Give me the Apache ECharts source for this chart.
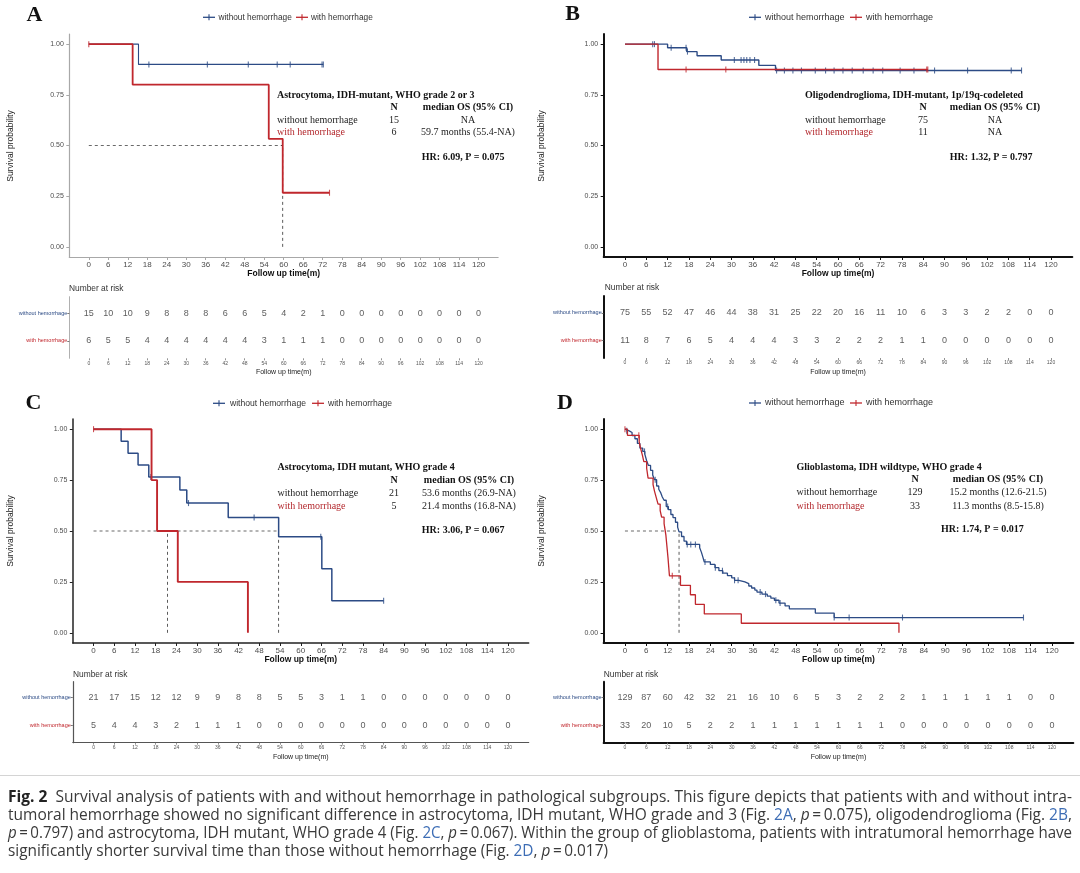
<!DOCTYPE html>
<html><head><meta charset="utf-8">
<script src="https://cdn.jsdelivr.net/npm/echarts@6/dist/echarts.min.js"></script>
<style>html,body{margin:0;padding:0;background:#fff}#c{width:1080px;height:873px}</style>
</head><body><div id="c"></div>
<script>
// ---------------- DATA ----------------
const timeTicks = [0,6,12,18,24,30,36,42,48,54,60,66,72,78,84,90,96,102,108,114,120];
const survTicks = [0,0.25,0.5,0.75,1];
const groupNames = ['without hemorrhage','with hemorrhage'];

// Panel A
const A_without_t = [0, 15.3, 72.2];
const A_without_s = [1, 0.9, 0.9];
const A_without_cens = [18.5, 36.5, 49.1, 58, 62, 71.8, 72.2];
const A_with_t = [0, 13.5, 55.4, 59.7, 74.1];
const A_with_s = [1, 0.8, 0.533, 0.267, 0.267];
const A_with_cens = [0, 74.1];
const A_medians = [59.7];
const A_risk_without = [15,10,10,9,8,8,8,6,6,5,4,2,1,0,0,0,0,0,0,0,0];
const A_risk_with = [6,5,5,4,4,4,4,4,4,3,1,1,1,0,0,0,0,0,0,0,0];
const A_title = 'Astrocytoma, IDH-mutant, WHO grade 2 or 3';
const A_N = ['15','6'];
const A_medianOS = ['NA','59.7 months (55.4-NA)'];
const A_hr = 'HR: 6.09, P = 0.075';

// Panel B
const B_without_t = [0, 12.0, 17.4, 20.3, 27.1, 37.7, 42.4, 111.7];
const B_without_s = [1, 0.982, 0.963, 0.943, 0.922, 0.895, 0.870, 0.870];
const B_without_cens = [7.8,8.3,13.0,17.2,17.6,30.8,32.7,33.5,34.3,35.2,36.5,42.7,44.9,47.3,49.7,53.6,56.5,58.9,61.4,64,67.1,69.9,72.6,77.5,81.4,87.2,96.5,108.8,111.7];
const B_with_t = [0, 9.3, 85.3];
const B_with_s = [1, 0.875, 0.875];
const B_with_cens = [17.2, 28.4, 85.0, 85.3];
const B_medians = [];
const B_risk_without = [75,55,52,47,46,44,38,31,25,22,20,16,11,10,6,3,3,2,2,0,0];
const B_risk_with = [11,8,7,6,5,4,4,4,3,3,2,2,2,1,1,0,0,0,0,0,0];
const B_title = 'Oligodendroglioma, IDH-mutant, 1p/19q-codeleted';
const B_N = ['75','11'];
const B_medianOS = ['NA','NA'];
const B_hr = 'HR: 1.32, P = 0.797';

// Panel C
const C_without_t = [0, 8.0, 10.0, 12.9, 16.0, 25.0, 27.0, 39.0, 53.6, 66.1, 69.0, 84.0];
const C_without_s = [1, 0.941, 0.882, 0.824, 0.765, 0.701, 0.637, 0.566, 0.472, 0.315, 0.157, 0.157];
const C_without_cens = [16.6, 27.5, 46.5, 65.8, 84.0];
const C_with_t = [0, 16.8, 18.4, 24.4, 44.7];
const C_with_s = [1, 0.75, 0.5, 0.25, 0];
const C_with_cens = [0];
const C_medians = [21.4, 53.6];
const C_risk_without = [21,17,15,12,12,9,9,8,8,5,5,3,1,1,0,0,0,0,0,0,0];
const C_risk_with = [5,4,4,3,2,1,1,1,0,0,0,0,0,0,0,0,0,0,0,0,0];
const C_title = 'Astrocytoma, IDH mutant, WHO grade 4';
const C_N = ['21','5'];
const C_medianOS = ['53.6 months (26.9-NA)','21.4 months (16.8-NA)'];
const C_hr = 'HR: 3.06, P = 0.067';

// Panel D
const D_without_t = [0,0.5,1.2,2.0,2.8,3.5,4.2,5.0,5.6,6.1,6.6,7.2,7.8,8.3,8.9,9.5,10.0,10.5,11.0,11.6,12.2,12.9,13.5,14.2,14.8,15.2,15.9,16.6,17.3,21.0,21.5,21.9,22.3,24.0,25.3,26.4,27.5,28.8,30.0,30.8,32.0,33.7,34.8,35.6,36.5,37.1,38.5,40.0,41.0,42.0,43.3,45.0,46.2,53.5,58.8,112.0];
const D_without_s = [1,0.992,0.984,0.969,0.953,0.930,0.907,0.891,0.876,0.845,0.822,0.798,0.775,0.752,0.721,0.705,0.690,0.667,0.651,0.620,0.605,0.581,0.566,0.543,0.519,0.496,0.473,0.450,0.434,0.418,0.395,0.372,0.348,0.336,0.320,0.305,0.293,0.281,0.270,0.258,0.250,0.242,0.230,0.220,0.210,0.200,0.190,0.180,0.170,0.160,0.146,0.132,0.118,0.097,0.075,0.075];
const D_without_cens = [0.5,5.5,8.5,12.0,17.5,18.5,19.8,22.5,25.4,27.4,30.8,31.8,38.0,39.5,42.4,43.6,58.8,63.0,78.0,112.0];
const D_with_t = [0,0.7,4.0,4.4,4.9,5.3,6.1,6.5,7.9,8.3,8.8,9.3,9.9,10.3,11.0,11.5,11.8,12.1,12.5,15.6,18.4,19.8,22.3,32.7,77.0];
const D_with_s = [1,0.970,0.938,0.906,0.873,0.841,0.808,0.760,0.728,0.696,0.664,0.632,0.600,0.568,0.536,0.480,0.424,0.368,0.280,0.233,0.187,0.140,0.093,0.047,0];
const D_with_cens = [0, 3.9, 13.3];
const D_medians = [15.2];
const D_risk_without = [129,87,60,42,32,21,16,10,6,5,3,2,2,2,1,1,1,1,1,0,0];
const D_risk_with = [33,20,10,5,2,2,1,1,1,1,1,1,1,0,0,0,0,0,0,0,0];
const D_title = 'Glioblastoma, IDH wildtype, WHO grade 4';
const D_N = ['129','33'];
const D_medianOS = ['15.2 months (12.6-21.5)','11.3 months (8.5-15.8)'];
const D_hr = 'HR: 1.74, P = 0.017';

const caption = [
  [{t:'Fig. 2',b:1},{t:'  Survival analysis of patients with and without hemorrhage in pathological subgroups. This figure depicts that patients with and without intra-'}],
  [{t:'tumoral hemorrhage showed no significant difference in astrocytoma, IDH mutant, WHO grade and 3 (Fig. '},{t:'2A',c:1},{t:', '},{t:'p',i:1},{t:'\u2009=\u20090.075), oligodendroglioma (Fig. '},{t:'2B',c:1},{t:','}],
  [{t:'p',i:1},{t:'\u2009=\u20090.797) and astrocytoma, IDH mutant, WHO grade 4 (Fig. '},{t:'2C',c:1},{t:', '},{t:'p',i:1},{t:'\u2009=\u20090.067). Within the group of glioblastoma, patients with intratumoral hemorrhage have'}],
  [{t:'significantly shorter survival time than those without hemorrhage (Fig. '},{t:'2D',c:1},{t:', '},{t:'p',i:1},{t:'\u2009=\u20090.017)'}]
];

// ---------------- LAYOUT / STYLE ----------------
const BLUE = '#2c4b85', RED = '#c0272d', RED_TXT = '#b3282d';
const SANS = '"Liberation Sans", Arial, sans-serif';
const SERIF = '"Liberation Serif", "Times New Roman", serif';

const panels = [
  {L:'A', letter:[34.4,15],
   plot:{left:69.3,top:34,width:428.8,height:223}, table:{left:69.3,top:296.7,width:428.8,height:61.6}, tyMin:0.36, tyMax:2.61,
   axC:'#a8a8a8', axW:1.2, tAxC:'#b0b0b0', tAxW:1, tXLine:false, wB:1.1, wR:1.8,
   legend:{y:17.3, b:[203,215], bt:218.5, r:[296,308], rt:311, fs:8.3},
   ann:{tx:277, ty:95.7, hy:107.7, r1:120, r2:132.7, nx:394, mx:468, hx:421.8, hry:157.3},
   nar:[69,288.3], ylab:[10.3,146],
   d:{wt:A_without_t, ws:A_without_s, wc:A_without_cens, rt:A_with_t, rs:A_with_s, rc:A_with_cens, med:A_medians,
      kw:A_risk_without, kr:A_risk_with, title:A_title, N:A_N, mos:A_medianOS, hr:A_hr}},
  {L:'B', letter:[572.7,14],
   plot:{left:603.7,top:34,width:468.6,height:223}, table:{left:603.7,top:296,width:468.6,height:62}, tyMin:0.36, tyMax:2.61,
   axC:'#111', axW:2, tAxC:'#111', tAxW:2, tXLine:false, wB:1.4, wR:1.4,
   legend:{y:17.3, b:[749,761], bt:765, r:[850,862], rt:866, fs:9},
   ann:{tx:805, ty:95.7, hy:107.7, r1:120, r2:132.7, nx:923, mx:995, hx:949.8, hry:157.3},
   nar:[604.7,287.3], ylab:[541.7,146],
   d:{wt:B_without_t, ws:B_without_s, wc:B_without_cens, rt:B_with_t, rs:B_with_s, rc:B_with_cens, med:B_medians,
      kw:B_risk_without, kr:B_risk_with, title:B_title, N:B_N, mos:B_medianOS, hr:B_hr}},
  {L:'C', letter:[33.5,403.3],
   plot:{left:72.8,top:419,width:455.9,height:224}, table:{left:72.8,top:681.7,width:455.9,height:61}, tyMin:0.39, tyMax:2.57,
   axC:'#222', axW:1.5, tAxC:'#555', tAxW:1.2, tXLine:true, wB:1.5, wR:1.9,
   legend:{y:403.3, b:[213,225], bt:230, r:[312,324], rt:328, fs:8.6},
   ann:{tx:277.5, ty:467.7, hy:480.7, r1:493.3, r2:506, nx:394, mx:469, hx:421.8, hry:530.7},
   nar:[73,675], ylab:[10.3,531],
   d:{wt:C_without_t, ws:C_without_s, wc:C_without_cens, rt:C_with_t, rs:C_with_s, rc:C_with_cens, med:C_medians,
      kw:C_risk_without, kr:C_risk_with, title:C_title, N:C_N, mos:C_medianOS, hr:C_hr}},
  {L:'D', letter:[565,403],
   plot:{left:603.6,top:419,width:469.7,height:224}, table:{left:603.6,top:681.7,width:469.7,height:61}, tyMin:0.39, tyMax:2.57,
   axC:'#111', axW:2, tAxC:'#111', tAxW:2, tXLine:true, wB:1.3, wR:1.3,
   legend:{y:403, b:[749,761], bt:765, r:[850,862], rt:866, fs:9},
   ann:{tx:796.5, ty:467.7, hy:479.5, r1:492.7, r2:506, nx:915, mx:998, hx:941, hry:529.3},
   nar:[603.7,675], ylab:[541.7,531],
   d:{wt:D_without_t, ws:D_without_s, wc:D_without_cens, rt:D_with_t, rs:D_with_s, rc:D_with_cens, med:D_medians,
      kw:D_risk_without, kr:D_risk_with, title:D_title, N:D_N, mos:D_medianOS, hr:D_hr}}
];

function survAt(ts, ss, t){ let v = ss[0]; for (let i=0;i<ts.length;i++){ if (ts[i] <= t + 1e-9) v = ss[i]; } return v; }
function zip(a,b){ return a.map((x,i)=>[x,b[i]]); }
function T(x, y, text, o){
  o = o || {};
  const size = o.size || 10, fam = o.fam || SANS, w = o.w || 'normal', st = o.st || 'normal';
  return {type:'text', x:x, y:y, rotation:o.rot||0, silent:true,
    style:{text:text, fill:o.color||'#222', font: st+' '+w+' '+size+'px '+fam,
      align:o.align||'left', verticalAlign:o.va||'middle', textAlign:o.align||'left', textVerticalAlign:o.va||'middle'}};
}

const grids=[], xAxes=[], yAxes=[], series=[], graphics=[];
const nP = panels.length;

panels.forEach((p,i)=>{
  grids[i] = Object.assign({}, p.plot);
  grids[i+nP] = Object.assign({}, p.table);
  const axisStyle = {color:p.axC, width:p.axW};
  xAxes[i] = {gridIndex:i, type:'value', min:-6, max:126,
    axisLine:{show:true, onZero:false, lineStyle:axisStyle},
    axisTick:{show:true, customValues:timeTicks, length:3, lineStyle:{color:p.axC, width:1}},
    axisLabel:{customValues:timeTicks, fontSize:8, color:'#4d4d4d', margin:3.5, fontFamily:SANS},
    splitLine:{show:false},
    name:'Follow up time(m)', nameLocation:'middle', nameGap:11.5,
    nameTextStyle:{fontSize:8.5, fontWeight:'bold', color:'#111', fontFamily:SANS}};
  yAxes[i] = {gridIndex:i, type:'value', min:-0.05, max:1.05,
    axisLine:{show:true, onZero:false, lineStyle:axisStyle},
    axisTick:{show:true, customValues:survTicks, length:3, lineStyle:{color:p.axC, width:1}},
    axisLabel:{customValues:survTicks, fontSize:7, color:'#4d4d4d', margin:5.5, fontFamily:SANS, formatter:v=>Number(v).toFixed(2)},
    splitLine:{show:false}};
  const tStyle = {color:p.tAxC, width:p.tAxW};
  xAxes[i+nP] = {gridIndex:i+nP, type:'value', min:-6, max:126,
    axisLine:{show:p.tXLine, onZero:false, lineStyle:tStyle},
    axisTick:{show:true, customValues:timeTicks, length:2, lineStyle:{color:'#777', width:0.8}},
    axisLabel:{customValues:timeTicks, fontSize:5, color:'#555', margin:2.5, fontFamily:SANS},
    splitLine:{show:false},
    name:'Follow up time(m)', nameLocation:'middle', nameGap:10.5,
    nameTextStyle:{fontSize:7, color:'#222', fontFamily:SANS}};
  yAxes[i+nP] = {gridIndex:i+nP, type:'value', min:p.tyMin, max:p.tyMax,
    axisLine:{show:true, onZero:false, lineStyle:tStyle},
    axisTick:{show:true, customValues:[1,2], length:2, lineStyle:{color:'#555', width:0.8}},
    axisLabel:{customValues:[1,2], fontSize:5.5, margin:2, fontFamily:SANS,
      formatter:v=> (Math.round(v)===2 ? '{a|'+groupNames[0]+'}' : '{b|'+groupNames[1]+'}'),
      rich:{a:{color:BLUE, fontSize:5.5, fontFamily:SANS}, b:{color:RED, fontSize:5.5, fontFamily:SANS}}},
    splitLine:{show:false}};

  const d = p.d;
  if (d.med.length){
    const mMax = Math.max.apply(null, d.med);
    series.push({type:'line', xAxisIndex:i, yAxisIndex:i, data:[[0,0.5],[mMax,0.5]], symbol:'none', silent:true, z:1,
      lineStyle:{color:'#444', width:0.8, type:[3,3]}});
    d.med.forEach(m=>{
      series.push({type:'line', xAxisIndex:i, yAxisIndex:i, data:[[m,0],[m,0.5]], symbol:'none', silent:true, z:1,
        lineStyle:{color:'#333', width:0.8, type:[3,3]}});
    });
  }
  series.push({name:groupNames[0], type:'line', step:'end', xAxisIndex:i, yAxisIndex:i, data:zip(d.wt,d.ws), symbol:'none', z:3,
    lineStyle:{color:BLUE, width:p.wB}});
  series.push({name:groupNames[0], type:'scatter', xAxisIndex:i, yAxisIndex:i, data:d.wc.map(t=>[t, survAt(d.wt,d.ws,t)]),
    symbol:'rect', symbolSize:[1.1,6], itemStyle:{color:BLUE}, z:4});
  series.push({name:groupNames[1], type:'line', step:'end', xAxisIndex:i, yAxisIndex:i, data:zip(d.rt,d.rs), symbol:'none', z:5,
    lineStyle:{color:RED, width:p.wR}});
  series.push({name:groupNames[1], type:'scatter', xAxisIndex:i, yAxisIndex:i, data:d.rc.map(t=>[t, survAt(d.rt,d.rs,t)]),
    symbol:'rect', symbolSize:[1.1,6], itemStyle:{color:RED}, z:6});
  [[d.kw,2],[d.kr,1]].forEach(([arr,row])=>{
    series.push({type:'scatter', xAxisIndex:i+nP, yAxisIndex:i+nP, data:timeTicks.map((t,k)=>[t,row,arr[k]]),
      symbol:'circle', symbolSize:0.1, itemStyle:{color:'rgba(0,0,0,0)'}, silent:true,
      label:{show:true, position:'inside', formatter:q=>String(q.value[2]), fontSize:9, color:'#333', fontFamily:SANS}});
  });

  graphics.push(T(p.letter[0], p.letter[1], p.L, {size:22, fam:SERIF, w:'bold', align:'center', color:'#111'}));
  const lg = p.legend;
  graphics.push({type:'line', silent:true, shape:{x1:lg.b[0],y1:lg.y,x2:lg.b[1],y2:lg.y}, style:{stroke:BLUE, lineWidth:1.3}});
  graphics.push({type:'line', silent:true, shape:{x1:(lg.b[0]+lg.b[1])/2,y1:lg.y-3,x2:(lg.b[0]+lg.b[1])/2,y2:lg.y+3}, style:{stroke:BLUE, lineWidth:1.1}});
  graphics.push(T(lg.bt, lg.y, groupNames[0], {size:lg.fs, color:'#333'}));
  graphics.push({type:'line', silent:true, shape:{x1:lg.r[0],y1:lg.y,x2:lg.r[1],y2:lg.y}, style:{stroke:RED, lineWidth:1.3}});
  graphics.push({type:'line', silent:true, shape:{x1:(lg.r[0]+lg.r[1])/2,y1:lg.y-3,x2:(lg.r[0]+lg.r[1])/2,y2:lg.y+3}, style:{stroke:RED, lineWidth:1.1}});
  graphics.push(T(lg.rt, lg.y, groupNames[1], {size:lg.fs, color:'#333'}));

  const a = p.ann;
  graphics.push(T(a.tx, a.ty, d.title, {size:10, fam:SERIF, w:'bold', color:'#111'}));
  graphics.push(T(a.nx, a.hy, 'N', {size:10, fam:SERIF, w:'bold', align:'center', color:'#111'}));
  graphics.push(T(a.mx, a.hy, 'median OS (95% CI)', {size:10, fam:SERIF, w:'bold', align:'center', color:'#111'}));
  graphics.push(T(a.tx, a.r1, groupNames[0], {size:10, fam:SERIF, color:'#222'}));
  graphics.push(T(a.tx, a.r2, groupNames[1], {size:10, fam:SERIF, color:RED_TXT}));
  graphics.push(T(a.nx, a.r1, d.N[0], {size:10, fam:SERIF, align:'center', color:'#222'}));
  graphics.push(T(a.nx, a.r2, d.N[1], {size:10, fam:SERIF, align:'center', color:'#222'}));
  graphics.push(T(a.mx, a.r1, d.mos[0], {size:10, fam:SERIF, align:'center', color:'#222'}));
  graphics.push(T(a.mx, a.r2, d.mos[1], {size:10, fam:SERIF, align:'center', color:'#222'}));
  graphics.push(T(a.hx, a.hry, d.hr, {size:10, fam:SERIF, w:'bold', color:'#111'}));

  graphics.push(T(p.nar[0], p.nar[1], 'Number at risk', {size:8.4, color:'#333'}));
  graphics.push(T(p.ylab[0], p.ylab[1], 'Survival probability', {size:8.5, color:'#222', align:'center', rot:Math.PI/2}));
});

// caption
graphics.push({type:'line', silent:true, shape:{x1:0,y1:775.5,x2:1080,y2:775.5}, style:{stroke:'#d4d4d4', lineWidth:1}});
(function(){
  const ctx = document.createElement('canvas').getContext('2d');
  const FS = 16.5, FAM = '"Open Sans", "Liberation Sans", sans-serif';
  const fontOf = s => (s.i?'italic ':'normal ') + (s.b?'bold ':'normal ') + FS + 'px ' + FAM;
  const lineYs = [797, 815, 833, 851];
  const target = 1064;
  const widths = caption.map(line => line.reduce((acc,s)=>{ ctx.font = fontOf(s); return acc + ctx.measureText(s.t).width; }, 0));
  const scales = widths.map(w => target / w);
  const avg = (scales[0]+scales[1]+scales[2])/3;
  caption.forEach((line, li)=>{
    const sc = li < 3 ? scales[li] : avg;
    let off = 0; const kids = [];
    line.forEach(s=>{
      ctx.font = fontOf(s);
      kids.push({type:'text', x:off, y:0, silent:true, style:{text:s.t, font:fontOf(s),
        fill: s.c ? '#3d6db5' : (s.b ? '#222' : '#3a3a3a'), verticalAlign:'middle', textVerticalAlign:'middle'}});
      off += ctx.measureText(s.t).width;
    });
    graphics.push({type:'group', x:8, y:lineYs[li], scaleX:sc, scaleY:1, children:kids});
  });
})();

const chart = echarts.init(document.getElementById('c'), null, {renderer:'canvas'});
chart.setOption({
  backgroundColor:'#ffffff',
  animation:false,
  grid:grids, xAxis:xAxes, yAxis:yAxes, series:series, graphic:graphics
});
</script></body></html>
